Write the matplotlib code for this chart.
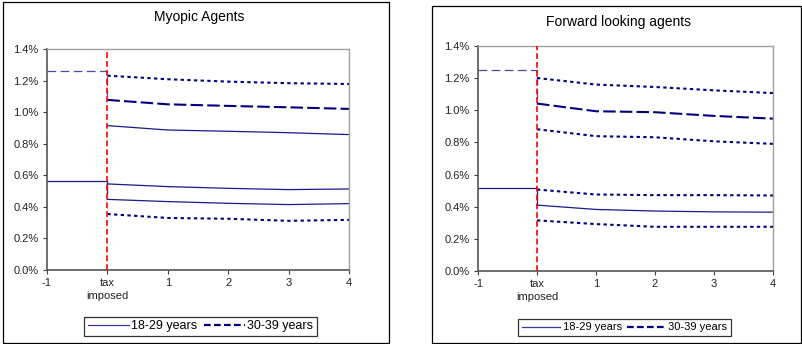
"""Youth smoking participation before and after a tax, two agent models."""

import matplotlib.pyplot as plt
from matplotlib.lines import Line2D
from matplotlib.patches import Rectangle

plt.rcParams['font.family'] = ['Liberation Sans', 'DejaVu Sans']

NAVY = '#000080'

x_ticks = [-1, 0, 1, 2, 3, 4]
x_labels = ['-1', 'tax\nimposed', '1', '2', '3', '4']
y_ticks = [0.0, 0.2, 0.4, 0.6, 0.8, 1.0, 1.2, 1.4]

pre_x = [-1, 0, 0]
post_x = [0, 1, 2, 3, 4]

# myopic agents (percent)
myo_young_pre = [0.565, 0.565, 0.49]
myo_old_pre = [1.265, 1.265, 1.10]
myo_dot_hi = [1.233, 1.210, 1.195, 1.185, 1.180]
myo_dash = [1.079, 1.051, 1.041, 1.032, 1.022]
myo_solid_hi = [0.916, 0.888, 0.880, 0.871, 0.859]
myo_solid_mid = [0.546, 0.529, 0.518, 0.510, 0.514]
myo_solid_lo = [0.448, 0.434, 0.423, 0.415, 0.421]
myo_dot_lo = [0.355, 0.330, 0.325, 0.312, 0.318]

# forward looking agents (percent)
fwd_young_pre = [0.514, 0.514, 0.41]
fwd_old_pre = [1.248, 1.248, 1.042]
fwd_dot_a = [1.201, 1.160, 1.145, 1.124, 1.107]
fwd_dash = [1.042, 0.994, 0.988, 0.965, 0.948]
fwd_dot_b = [0.882, 0.839, 0.832, 0.807, 0.791]
fwd_dot_c = [0.507, 0.476, 0.472, 0.472, 0.470]
fwd_solid = [0.410, 0.383, 0.373, 0.368, 0.366]
fwd_dot_d = [0.315, 0.292, 0.275, 0.275, 0.275]

fig = plt.figure(figsize=(8.02, 3.44), dpi=100)

# chart borders
fig.add_artist(Rectangle((3 / 802, 1 - 343 / 344), 386 / 802, 341 / 344,
                         transform=fig.transFigure, fill=False, ec='black', lw=0.9))
fig.add_artist(Rectangle((432 / 802, 1 - 343 / 344), 369 / 802, 337 / 344,
                         transform=fig.transFigure, fill=False, ec='black', lw=0.9))

ax1 = fig.add_axes([47 / 802, 74 / 344, 302 / 802, 220.7 / 344])
ax2 = fig.add_axes([478 / 802, 73 / 344, 295 / 802, 225 / 344])


def solid(ax, x, y):
    ax.plot(x, y, color='#1a1a88', lw=0.9, solid_joinstyle='round')


def dashed(ax, x, y):
    ax.plot(x, y, color=NAVY, lw=1.5, dashes=(6, 2))


def dotted(ax, x, y):
    ax.plot(x, y, color=NAVY, lw=1.5, dashes=(1.6, 1.6))


def pre_dashed(ax, x, y):
    ax.plot(x, y, color='#4c4ca6', lw=0.9, dashes=(7, 3.5))


def style(ax):
    ax.set_xlim(-1, 4)
    ax.set_ylim(0, 1.4)
    ax.set_xticks(x_ticks)
    ax.set_xticklabels(x_labels, linespacing=1.3)
    ax.set_yticks(y_ticks)
    ax.set_yticklabels(['%.1f%%' % v for v in y_ticks])
    ax.tick_params(labelsize=8, length=3, width=0.8, color='#404040',
                   labelcolor='#222222', pad=3)
    for side in ['left', 'bottom']:
        ax.spines[side].set_color('#555555')
        ax.spines[side].set_linewidth(1.2)
    for side in ['top', 'right']:
        ax.spines[side].set_color('#a0a0a0')
        ax.spines[side].set_linewidth(1.0)
    ax.axvline(0, color='#ff0000', lw=1.2, dashes=(3.5, 1.8), zorder=5)


# myopic panel
solid(ax1, pre_x, myo_young_pre)
pre_dashed(ax1, pre_x, myo_old_pre)
dotted(ax1, post_x, myo_dot_hi)
dashed(ax1, post_x, myo_dash)
solid(ax1, post_x, myo_solid_hi)
solid(ax1, post_x, myo_solid_mid)
solid(ax1, post_x, myo_solid_lo)
dotted(ax1, post_x, myo_dot_lo)
style(ax1)

# forward looking panel
solid(ax2, pre_x, fwd_young_pre)
pre_dashed(ax2, pre_x, fwd_old_pre)
dotted(ax2, post_x, fwd_dot_a)
dashed(ax2, post_x, fwd_dash)
dotted(ax2, post_x, fwd_dot_b)
dotted(ax2, post_x, fwd_dot_c)
solid(ax2, post_x, fwd_solid)
dotted(ax2, post_x, fwd_dot_d)
style(ax2)

fig.text(199 / 802, 1 - 17 / 344, 'Myopic Agents', ha='center', va='center', fontsize=10)
fig.text(618 / 802, 1 - 22 / 344, 'Forward looking agents', ha='center', va='center', fontsize=10)

handles = [Line2D([], [], color='#3a3a9a', lw=0.9),
           Line2D([], [], color=NAVY, lw=1.6, dashes=(3, 1.5))]
labels = ['18-29 years', '30-39 years']

for cx, cy, fs, hl in [(200.5, 326.5, 9, 3.3), (624.5, 327.5, 8, 3.5)]:
    leg = fig.legend(handles, labels, loc='center', ncol=2,
                     bbox_to_anchor=(cx / 802, 1 - cy / 344),
                     fontsize=fs, frameon=True, fancybox=False, handlelength=hl,
                     handletextpad=0.2, columnspacing=0.5, borderpad=0.3,
                     borderaxespad=0)
    leg.get_frame().set_edgecolor('black')
    leg.get_frame().set_linewidth(0.9)

fig.savefig('out.png', dpi=100)
